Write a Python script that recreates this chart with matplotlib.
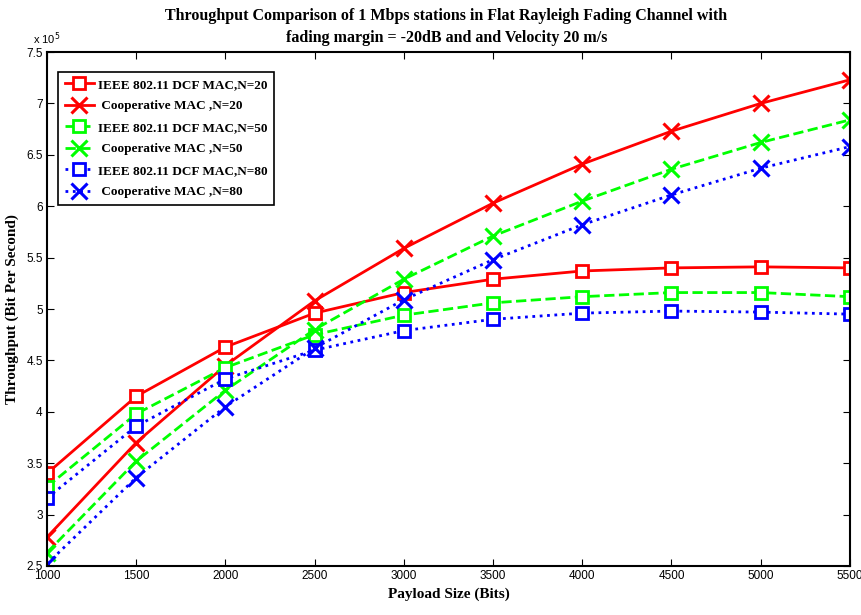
import matplotlib.pyplot as plt

payload = [1000, 1500, 2000, 2500, 3000, 3500, 4000, 4500, 5000, 5500]

# throughput values in units of 1e5 bit/s
dcf_20 = [3.40, 4.15, 4.63, 4.96, 5.16, 5.29, 5.37, 5.40, 5.41, 5.40]
coop_20 = [2.78, 3.70, 4.45, 5.08, 5.59, 6.03, 6.41, 6.73, 7.00, 7.23]
dcf_50 = [3.27, 3.98, 4.43, 4.75, 4.94, 5.06, 5.12, 5.16, 5.16, 5.12]
coop_50 = [2.63, 3.52, 4.21, 4.80, 5.29, 5.71, 6.05, 6.36, 6.62, 6.84]
dcf_80 = [3.16, 3.86, 4.32, 4.60, 4.79, 4.90, 4.96, 4.98, 4.97, 4.95]
coop_80 = [2.52, 3.36, 4.05, 4.62, 5.09, 5.48, 5.82, 6.11, 6.37, 6.58]

series = [
    (dcf_20, "IEEE 802.11 DCF MAC,N=20", "red", "-", "s"),
    (coop_20, " Cooperative MAC ,N=20", "red", "-", "x"),
    (dcf_50, "IEEE 802.11 DCF MAC,N=50", "#00ff00", "--", "s"),
    (coop_50, " Cooperative MAC ,N=50", "#00ff00", "--", "x"),
    (dcf_80, "IEEE 802.11 DCF MAC,N=80", "blue", ":", "s"),
    (coop_80, " Cooperative MAC ,N=80", "blue", ":", "x"),
]

fig = plt.figure(figsize=(8.62, 6.15), dpi=100)
ax = fig.add_axes([0.0545, 0.0797, 0.9315, 0.8357])

for vals, name, col, ls, mk in series:
    y = [v * 1e5 for v in vals]
    if mk == "s":
        ax.plot(payload, y, color=col, linestyle=ls, linewidth=2, marker="s",
                markersize=9, markerfacecolor="white", markeredgecolor=col,
                markeredgewidth=2, label=name)
    else:
        ax.plot(payload, y, color=col, linestyle=ls, linewidth=2, marker="x",
                markersize=12, markeredgewidth=2.2, label=name)

ax.set_xlim(1000, 5500)
ax.set_ylim(2.5e5, 7.5e5)
ax.set_xticks(payload)
ax.set_yticks([v * 1e5 for v in [2.5, 3, 3.5, 4, 4.5, 5, 5.5, 6, 6.5, 7, 7.5]])
ax.set_yticklabels(["2.5", "3", "3.5", "4", "4.5", "5", "5.5", "6", "6.5", "7", "7.5"])
ax.tick_params(direction="in", top=True, right=True, length=5, labelsize=8.5, pad=3)
for lab in ax.get_xticklabels() + ax.get_yticklabels():
    lab.set_family("Liberation Sans")
for s in ax.spines.values():
    s.set_linewidth(1.5)

ax.text(0.0, 1.01, r"x 10$^5$", transform=ax.transAxes, fontsize=8,
        family="Liberation Sans", ha="center", va="bottom")

fig.text(0.518, 1 - 27 / 615,
         "Throughput Comparison of 1 Mbps stations in Flat Rayleigh Fading Channel with\n"
         "fading margin = -20dB and and Velocity 20 m/s",
         fontsize=11.5, fontweight="bold", family="Liberation Serif",
         ha="center", va="center", linespacing=1.45)
ax.set_xlabel("Payload Size (Bits)", fontsize=11, fontweight="bold", family="Liberation Serif")
ax.set_ylabel("Throughput (Bit Per Second)", fontsize=11, fontweight="bold",
              family="Liberation Serif")
ax.yaxis.set_label_coords(-0.035, 0.5)

leg = ax.legend(loc="upper left", bbox_to_anchor=(0.0137, 0.961), borderaxespad=0,
                fancybox=False, edgecolor="black", framealpha=1, handlelength=2.2,
                handletextpad=0.3, labelspacing=0.7, borderpad=0.5,
                prop={"family": "Liberation Serif", "weight": "bold", "size": 9.5})
leg.get_frame().set_linewidth(1.2)

fig.savefig("out.png", dpi=100)
